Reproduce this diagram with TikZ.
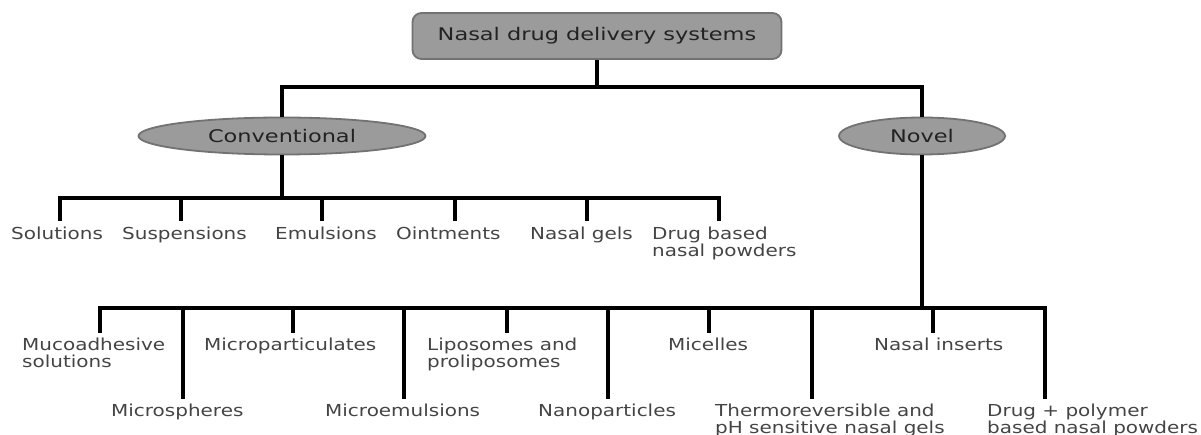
\documentclass[tikz,border=0pt]{standalone}
\usepackage{fontspec}
\setmainfont{DejaVu Sans}
\newfontfamily\leaffont[FakeStretch=1.21]{DejaVu Sans}
\newfontfamily\labfont[FakeStretch=1.29]{DejaVu Sans}
\usetikzlibrary{shapes.geometric}
\definecolor{boxfill}{HTML}{9B9B9B}
\definecolor{boxline}{HTML}{727272}
\definecolor{txt}{HTML}{444444}
\definecolor{labtxt}{HTML}{222222}
\begin{document}
\begin{tikzpicture}[x=1pt,y=-1pt,
  conn/.style={line width=3.2pt, black},
  topbox/.style={draw=boxline, line width=1.8pt, fill=boxfill, rounded corners=9pt,
    minimum width=369pt, minimum height=46pt, font=\labfont\fontsize{17.4}{21}\selectfont, text=labtxt},
  cat/.style={ellipse, draw=boxline, line width=1.8pt, fill=boxfill, minimum height=37pt,
    font=\labfont\fontsize{17.4}{21}\selectfont, text=labtxt, inner sep=0pt},
  leaf/.style={anchor=north west, inner xsep=0pt, inner ysep=5pt, align=left,
    font=\leaffont\fontsize{16.5}{17}\selectfont, text=txt}]
\useasboundingbox (0,0) rectangle (1201,435);

\node[topbox] (top) at (597,36) {Nasal drug delivery systems};
\node[cat, minimum width=287pt] (conv) at (282,136) {Conventional};
\node[cat, minimum width=166pt] (novel) at (922,136) {Novel};

\coordinate (j0) at (597,87);
\draw[conn] (top.south) -- (j0);
\draw[conn] (conv.north) |- (j0) -| (novel.north);

% conventional children
\node[leaf] (c1) at (11,221.5) {Solutions};
\node[leaf] (c2) at (122,221.5) {Suspensions};
\node[leaf] (c3) at (275,221.5) {Emulsions};
\node[leaf] (c4) at (396,221.5) {Ointments};
\node[leaf] (c5) at (530,221.5) {Nasal gels};
\node[leaf] (c6) at (652,221.5) {Drug based\\nasal powders};

\coordinate (cb) at (282,198);
\draw[conn] (conv.south) -- (cb);
\draw[conn] ([xshift=49pt]c1.north west) |- (cb) -| ([xshift=67pt]c6.north west);
\draw[conn] (cb) -| ([xshift=59pt]c2.north west);
\draw[conn] (cb) -| ([xshift=47pt]c3.north west);
\draw[conn] (cb) -| ([xshift=59pt]c4.north west);
\draw[conn] (cb) -| ([xshift=57pt]c5.north west);

% novel children
\node[leaf] (n1) at (22,332.5) {Mucoadhesive\\solutions};
\node[leaf] (n2) at (111,398.5) {Microspheres};
\node[leaf] (n3) at (204,332.5) {Microparticulates};
\node[leaf] (n4) at (325,398.5) {Microemulsions};
\node[leaf] (n5) at (427,332.5) {Liposomes and\\proliposomes};
\node[leaf] (n6) at (538,398.5) {Nanoparticles};
\node[leaf] (n7) at (668,332.5) {Micelles};
\node[leaf] (n8) at (715,398.5) {Thermoreversible and\\pH sensitive nasal gels};
\node[leaf] (n9) at (874,332.5) {Nasal inserts};
\node[leaf] (n10) at (987,398.5) {Drug + polymer\\based nasal powders};

\coordinate (nb) at (922,308);
\draw[conn] (novel.south) -- (nb);
\draw[conn] ([xshift=78pt]n1.north west) |- (nb) -| ([xshift=58pt]n10.north west);
\draw[conn] (nb) -| ([xshift=72pt]n2.north west);
\draw[conn] (nb) -| ([xshift=89pt]n3.north west);
\draw[conn] (nb) -| ([xshift=79pt]n4.north west);
\draw[conn] (nb) -| ([xshift=80pt]n5.north west);
\draw[conn] (nb) -| ([xshift=70pt]n6.north west);
\draw[conn] (nb) -| ([xshift=41pt]n7.north west);
\draw[conn] (nb) -| ([xshift=97pt]n8.north west);
\draw[conn] (nb) -| ([xshift=59pt]n9.north west);
\end{tikzpicture}
\end{document}
